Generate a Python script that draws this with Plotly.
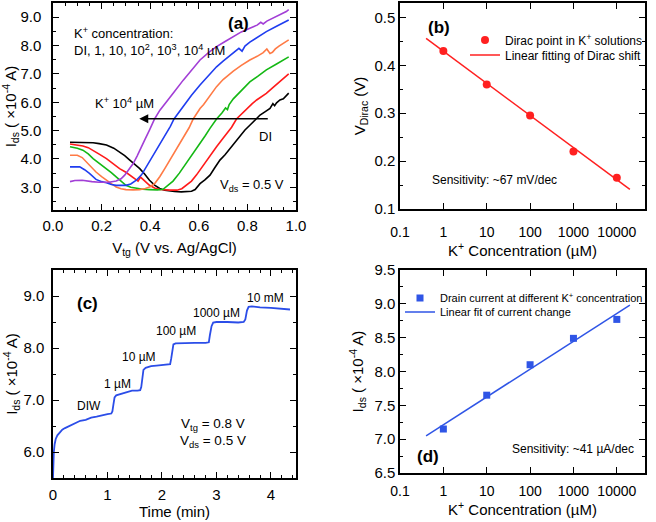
import plotly.graph_objects as go

# ---------------- Panel (a): transfer curves ----------------
a_di_x = [0.07, 0.10, 0.14, 0.165, 0.19, 0.22, 0.25, 0.274, 0.295, 0.316, 0.337, 0.357, 0.377, 0.397, 0.418, 0.439, 0.46, 0.48, 0.50, 0.528, 0.55, 0.57, 0.585, 0.605, 0.625, 0.646, 0.665, 0.687, 0.708, 0.728, 0.75, 0.77, 0.79, 0.81, 0.83, 0.852, 0.872, 0.893, 0.905, 0.912, 0.92, 0.934, 0.948, 0.96, 0.97]
a_di_y = [4.59, 4.59, 4.58, 4.57, 4.54, 4.49, 4.38, 4.25, 4.12, 3.96, 3.82, 3.66, 3.47, 3.25, 3.08, 2.96, 2.90, 2.87, 2.85, 2.84, 2.85, 2.86, 2.92, 3.13, 3.26, 3.43, 3.68, 3.96, 4.15, 4.37, 4.62, 4.84, 5.02, 5.19, 5.36, 5.55, 5.66, 5.78, 5.95, 5.88, 5.98, 6.08, 6.12, 6.25, 6.32]

a_1_x = [0.07, 0.10, 0.123, 0.145, 0.165, 0.19, 0.22, 0.25, 0.274, 0.30, 0.316, 0.335, 0.35, 0.36, 0.37, 0.38, 0.397, 0.42, 0.44, 0.48, 0.51, 0.53, 0.55, 0.57, 0.59, 0.61, 0.632, 0.652, 0.673, 0.695, 0.715, 0.735, 0.755, 0.775, 0.797, 0.82, 0.838, 0.86, 0.878, 0.90, 0.92, 0.94, 0.96, 0.97]
a_1_y = [4.53, 4.50, 4.46, 4.40, 4.31, 4.17, 4.01, 3.82, 3.66, 3.53, 3.43, 3.33, 3.22, 3.36, 3.28, 3.18, 3.07, 2.97, 2.92, 2.90, 2.90, 2.95, 3.07, 3.22, 3.43, 3.68, 3.96, 4.18, 4.43, 4.68, 4.90, 5.12, 5.41, 5.58, 5.78, 5.95, 6.08, 6.20, 6.31, 6.48, 6.62, 6.78, 6.93, 7.00]

a_10_x = [0.07, 0.10, 0.123, 0.145, 0.165, 0.19, 0.22, 0.24, 0.26, 0.28, 0.30, 0.32, 0.343, 0.37, 0.397, 0.43, 0.453, 0.475, 0.494, 0.52, 0.54, 0.564, 0.585, 0.605, 0.625, 0.646, 0.673, 0.695, 0.71, 0.718, 0.725, 0.742, 0.775, 0.81, 0.845, 0.878, 0.92, 0.96, 0.97]
a_10_y = [4.43, 4.38, 4.31, 4.18, 4.01, 3.85, 3.66, 3.52, 3.37, 3.22, 3.07, 3.00, 2.96, 2.93, 2.92, 2.91, 2.93, 3.08, 3.22, 3.50, 3.74, 4.07, 4.30, 4.55, 4.80, 5.08, 5.41, 5.62, 5.80, 5.74, 5.92, 6.12, 6.42, 6.72, 6.93, 7.14, 7.35, 7.55, 7.60]

a_100_x = [0.07, 0.10, 0.12, 0.137, 0.155, 0.177, 0.20, 0.22, 0.24, 0.26, 0.28, 0.30, 0.33, 0.356, 0.38, 0.40, 0.42, 0.44, 0.46, 0.48, 0.50, 0.52, 0.545, 0.56, 0.577, 0.59, 0.605, 0.62, 0.64, 0.673, 0.70, 0.742, 0.775, 0.81, 0.84, 0.865, 0.88, 0.893, 0.903, 0.915, 0.93, 0.95, 0.97]
a_100_y = [4.13, 4.13, 4.05, 3.90, 3.72, 3.54, 3.38, 3.25, 3.12, 3.01, 2.95, 2.92, 2.91, 2.92, 2.96, 3.02, 3.15, 3.38, 3.66, 3.95, 4.22, 4.50, 4.85, 5.10, 5.41, 5.58, 5.78, 5.92, 6.15, 6.55, 6.80, 7.10, 7.30, 7.49, 7.62, 7.75, 7.88, 7.72, 7.76, 7.88, 7.98, 8.08, 8.20]

a_1000_x = [0.07, 0.11, 0.13, 0.15, 0.177, 0.20, 0.22, 0.24, 0.26, 0.28, 0.30, 0.32, 0.343, 0.365, 0.384, 0.405, 0.425, 0.445, 0.466, 0.483, 0.498, 0.515, 0.536, 0.57, 0.605, 0.64, 0.673, 0.70, 0.74, 0.765, 0.778, 0.79, 0.81, 0.845, 0.878, 0.92, 0.96, 0.97]
a_1000_y = [3.72, 3.72, 3.62, 3.49, 3.28, 3.20, 3.16, 3.10, 3.07, 3.06, 3.07, 3.12, 3.25, 3.45, 3.72, 4.00, 4.31, 4.60, 4.90, 5.15, 5.41, 5.61, 5.84, 6.25, 6.61, 6.95, 7.25, 7.45, 7.73, 7.90, 7.80, 7.98, 8.12, 8.32, 8.49, 8.68, 8.86, 8.90]

a_10000_x = [0.07, 0.09, 0.12, 0.137, 0.16, 0.19, 0.205, 0.23, 0.26, 0.28, 0.295, 0.313, 0.33, 0.346, 0.363, 0.38, 0.397, 0.418, 0.44, 0.465, 0.50, 0.536, 0.57, 0.605, 0.64, 0.673, 0.71, 0.74, 0.775, 0.81, 0.84, 0.855, 0.865, 0.88, 0.91, 0.935, 0.96, 0.97]
a_10000_y = [3.20, 3.24, 3.25, 3.24, 3.20, 3.18, 3.17, 3.18, 3.22, 3.30, 3.43, 3.62, 3.84, 4.10, 4.43, 4.72, 5.02, 5.41, 5.72, 5.98, 6.38, 6.78, 7.15, 7.49, 7.75, 7.96, 8.15, 8.31, 8.48, 8.61, 8.72, 8.82, 8.76, 8.86, 8.98, 9.08, 9.20, 9.27]

a_colors = ["#000000", "#ff1a1a", "#14b814", "#ff7a45", "#1f3df0", "#a23fd6"]

# ---------------- Panel (b): Dirac point ----------------
conc = [1, 10, 100, 1000, 10000]
v_dirac = [0.43, 0.36, 0.295, 0.22, 0.165]
b_fit_x = [0.4, 20000]
b_fit_y = [0.456, 0.141]

# ---------------- Panel (c): time response ----------------
c_t = [0.0, 0.005, 0.015, 0.03, 0.05, 0.08, 0.12, 0.17, 0.22, 0.30, 0.40, 0.45, 0.50, 0.60, 0.70, 0.80, 0.90, 1.00, 1.07, 1.09, 1.11, 1.13, 1.16, 1.25, 1.35, 1.45, 1.55, 1.60, 1.62, 1.64, 1.66, 1.70, 1.80, 1.90, 2.00, 2.10, 2.15, 2.17, 2.19, 2.21, 2.25, 2.40, 2.60, 2.80, 2.86, 2.88, 2.91, 2.94, 3.00, 3.20, 3.40, 3.50, 3.53, 3.56, 3.59, 3.65, 3.80, 4.00, 4.20, 4.35]
c_i = [5.50, 5.80, 6.00, 6.15, 6.25, 6.32, 6.38, 6.43, 6.46, 6.50, 6.55, 6.58, 6.60, 6.62, 6.66, 6.68, 6.71, 6.73, 6.74, 6.78, 6.92, 7.05, 7.09, 7.12, 7.15, 7.18, 7.18, 7.19, 7.25, 7.45, 7.58, 7.62, 7.65, 7.66, 7.67, 7.68, 7.69, 7.80, 8.00, 8.07, 8.09, 8.10, 8.10, 8.10, 8.11, 8.25, 8.42, 8.49, 8.50, 8.50, 8.49, 8.50, 8.55, 8.72, 8.79, 8.80, 8.78, 8.77, 8.75, 8.74]
c_labels = ["DIW", "1 µM", "10 µM", "100 µM", "1000 µM", "10 mM"]
c_label_t = [0.66, 1.19, 1.57, 2.26, 3.00, 3.90]
c_label_i = [6.88, 7.30, 7.83, 8.32, 8.68, 8.97]

# ---------------- Panel (d): current vs concentration ----------------
ids_d = [7.15, 7.65, 8.10, 8.49, 8.77]
d_fit_x = [0.4, 20000]
d_fit_y = [7.05, 8.98]

log_ticks = [0.1, 1, 10, 100, 1000, 10000]
log_ticktext = ["0.1", "1", "10", "100", "1000", "10000"]
log_minor = [m * 10 ** e for e in range(-1, 5) for m in range(2, 10)]

FONT = "Liberation Sans, Arial, sans-serif"
TICKF = dict(family=FONT, size=15, color="black")
LOGTICKF = dict(family=FONT, size=14, color="black")
TITLEF = dict(family=FONT, size=15, color="black")

fig = go.Figure()

a_sets = [(a_di_x, a_di_y), (a_1_x, a_1_y), (a_10_x, a_10_y),
          (a_100_x, a_100_y), (a_1000_x, a_1000_y), (a_10000_x, a_10000_y)]
for (xs, ys), col in zip(a_sets, a_colors):
    fig.add_trace(go.Scatter(x=xs, y=ys, mode="lines", line=dict(color=col, width=1.6),
                             xaxis="x", yaxis="y", showlegend=False))

fig.add_trace(go.Scatter(x=conc, y=v_dirac, mode="markers", name="Dirac point in K<sup>+</sup> solutions",
                         marker=dict(color="#ff2020", size=8, symbol="circle"),
                         xaxis="x2", yaxis="y2", legend="legend"))
fig.add_trace(go.Scatter(x=b_fit_x, y=b_fit_y, mode="lines", name="Linear fitting of Dirac shift",
                         line=dict(color="#ff2020", width=1.5),
                         xaxis="x2", yaxis="y2", legend="legend3"))

fig.add_trace(go.Scatter(x=c_t, y=c_i, mode="lines", line=dict(color="#2b4de8", width=1.8),
                         xaxis="x3", yaxis="y3", showlegend=False))

fig.add_trace(go.Scatter(x=conc, y=ids_d, mode="markers", name="Drain current at different K<sup>+</sup> concentration",
                         marker=dict(color="#2f55e6", size=7, symbol="square"),
                         xaxis="x4", yaxis="y4", legend="legend2"))
fig.add_trace(go.Scatter(x=d_fit_x, y=d_fit_y, mode="lines", name="Linear fit of current change",
                         line=dict(color="#2f55e6", width=1.5),
                         xaxis="x4", yaxis="y4", legend="legend4"))

def ax(**kw):
    base = dict(showline=True, linecolor="black", linewidth=1.5, mirror="ticks",
                ticks="inside", ticklen=6, tickwidth=1.2, tickcolor="black",
                showgrid=False, zeroline=False, tickfont=TICKF, automargin=False)
    base.update(kw)
    return base

W, H = 656, 522
xa_dom = [53 / W, 296 / W]
xb_dom = [400 / W, 645 / W]
ya_dom = [1 - 210 / H, 1 - 3 / H]
yb_dom = [1 - 209 / H, 1 - 3 / H]
yc_dom = [1 - 478 / H, 1 - 270 / H]
yd_dom = [1 - 473 / H, 1 - 270 / H]

minor_small = dict(ticks="inside", ticklen=3, tickwidth=1.0, tickcolor="black")

def leg(xpx, ypx, size):
    return dict(x=xpx / W, y=1 - ypx / H, xanchor="left", yanchor="middle",
                bgcolor="rgba(0,0,0,0)", font=dict(family=FONT, size=size, color="black"),
                borderwidth=0)

fig.update_layout(
    width=W, height=H, margin=dict(l=0, r=0, t=0, b=0),
    template="none", paper_bgcolor="white", plot_bgcolor="white",
    font=dict(family=FONT, color="black"),
    xaxis=ax(domain=xa_dom, anchor="y", range=[0, 1.0], dtick=0.2, tick0=0, tickformat=".1f",
             minor=dict(dtick=0.05, **minor_small), ticklabelstandoff=1,
             title=dict(text="V<sub>tg</sub> (V vs. Ag/AgCl)", font=TITLEF, standoff=10)),
    yaxis=ax(domain=ya_dom, anchor="x", range=[2.2, 9.5], dtick=1, tick0=0, tickformat=".1f",
             minor=dict(dtick=0.5, **minor_small), ticklabelstandoff=7,
             title=dict(text="I<sub>ds</sub> ( ×10<sup>-4</sup> A)", font=TITLEF, standoff=2)),
    xaxis2=ax(domain=xb_dom, anchor="y2", type="log", range=[-1, 4.65], tickfont=LOGTICKF,
              tickvals=log_ticks, ticktext=log_ticktext, ticklabelstandoff=9,
              title=dict(text="K<sup>+</sup> Concentration (µM)", font=TITLEF, standoff=1)),
    yaxis2=ax(domain=yb_dom, anchor="x2", range=[0.1, 0.53], dtick=0.1, tick0=0, tickformat=".1f",
              minor=dict(dtick=0.05, **minor_small), ticklabelstandoff=0,
              title=dict(text="V<sub>Dirac</sub> (V)", font=TITLEF, standoff=5)),
    xaxis3=ax(domain=xa_dom, anchor="y3", range=[0, 4.46], dtick=1, tick0=0,
              minor=dict(dtick=0.2, **minor_small), ticklabelstandoff=2,
              title=dict(text="Time (min)", font=TITLEF, standoff=3)),
    yaxis3=ax(domain=yc_dom, anchor="x3", range=[5.5, 9.5], dtick=1, tick0=0, tickformat=".1f",
              minor=dict(dtick=0.5, **minor_small), ticklabelstandoff=4,
              title=dict(text="I<sub>ds</sub> ( ×10<sup>-4</sup> A)", font=TITLEF, standoff=2)),
    xaxis4=ax(domain=xb_dom, anchor="y4", type="log", range=[-1, 4.65], tickfont=LOGTICKF,
              tickvals=log_ticks, ticktext=log_ticktext, ticklabelstandoff=4,
              title=dict(text="K<sup>+</sup> Concentration (µM)", font=TITLEF, standoff=5)),
    yaxis4=ax(domain=yd_dom, anchor="x4", range=[6.5, 9.5], dtick=0.5, tick0=0, tickformat=".1f",
              minor=dict(dtick=0.25, **minor_small), ticklabelstandoff=0,
              title=dict(text="I<sub>ds</sub> ( ×10<sup>-4</sup> A)", font=TITLEF, standoff=7)),
    # minor ticks for log axes (overlay axes without labels)
    xaxis5=dict(overlaying="x2", anchor="y2", type="log", range=[-1, 4.65], tickvals=log_minor,
                showticklabels=False, ticks="inside", ticklen=3, tickwidth=1.0, tickcolor="black",
                showline=True, linecolor="black", linewidth=1.5, mirror="ticks", showgrid=False,
                zeroline=False, automargin=False),
    xaxis6=dict(overlaying="x4", anchor="y4", type="log", range=[-1, 4.65], tickvals=log_minor,
                showticklabels=False, ticks="inside", ticklen=3, tickwidth=1.0, tickcolor="black",
                showline=True, linecolor="black", linewidth=1.5, mirror="ticks", showgrid=False,
                zeroline=False, automargin=False),
    legend=leg(465, 40, 12),
    legend3=leg(465, 55, 12),
    legend2=leg(400, 298, 11),
    legend4=leg(400, 312, 11),
)

ann = []
TXT = dict(family=FONT, color="black")
# Panel (a)
ann.append(dict(x=0.077, y=8.15, xref="x", yref="y", xanchor="left", yanchor="middle", align="left",
                text="K<sup>+</sup> concentration:<br>DI, 1, 10, 10<sup>2</sup>, 10<sup>3</sup>, 10<sup>4</sup> µM",
                showarrow=False, font=dict(size=13, **TXT)))
ann.append(dict(x=0.765, y=8.79, xref="x", yref="y", text="<b>(a)</b>", showarrow=False,
                font=dict(size=17, **TXT)))
ann.append(dict(x=0.165, y=5.96, xref="x", yref="y", xanchor="left", text="K<sup>+</sup> 10<sup>4</sup> µM",
                showarrow=False, font=dict(size=13, **TXT)))
ann.append(dict(x=0.875, y=4.78, xref="x", yref="y", text="DI", showarrow=False,
                font=dict(size=13, **TXT)))
ann.append(dict(x=0.82, y=3.07, xref="x", yref="y", text="V<sub>ds</sub> = 0.5 V", showarrow=False,
                font=dict(size=13, **TXT)))
ann.append(dict(x=0.355, y=5.42, ax=0.89, ay=5.42, xref="x", yref="y", axref="x", ayref="y",
                text="", showarrow=True, arrowhead=2, arrowsize=1.2, arrowwidth=1.5, arrowcolor="black"))
# Panel (b)
ann.append(dict(x=-0.1, y=0.479, xref="x2", yref="y2", text="<b>(b)</b>", showarrow=False,
                font=dict(size=17, **TXT)))
ann.append(dict(x=1.17, y=0.16, xref="x2", yref="y2", text="Sensitivity: ~67 mV/dec", showarrow=False,
                font=dict(size=12, **TXT)))
# Panel (c)
for t, i, s in zip(c_label_t, c_label_i, c_labels):
    ann.append(dict(x=t, y=i, xref="x3", yref="y3", text=s, showarrow=False, font=dict(size=12, **TXT)))
ann.append(dict(x=0.64, y=8.86, xref="x3", yref="y3", text="<b>(c)</b>", showarrow=False,
                font=dict(size=17, **TXT)))
ann.append(dict(x=2.94, y=6.53, xref="x3", yref="y3", text="V<sub>tg</sub> = 0.8 V", showarrow=False,
                font=dict(size=13.5, **TXT)))
ann.append(dict(x=2.94, y=6.21, xref="x3", yref="y3", text="V<sub>ds</sub> = 0.5 V", showarrow=False,
                font=dict(size=13.5, **TXT)))
# Panel (d)
ann.append(dict(x=-0.355, y=6.74, xref="x4", yref="y4", text="<b>(d)</b>", showarrow=False,
                font=dict(size=17, **TXT)))
ann.append(dict(x=2.99, y=6.85, xref="x4", yref="y4", text="Sensitivity: ~41 µA/dec", showarrow=False,
                font=dict(size=12, **TXT)))
fig.update_layout(annotations=ann)

# remove the browser's default 8px body margin so the figure sits at the window origin
fig.write_html("out.html", config={"displayModeBar": False},
               post_script="document.body.style.margin='0';document.body.style.overflow='hidden';")
